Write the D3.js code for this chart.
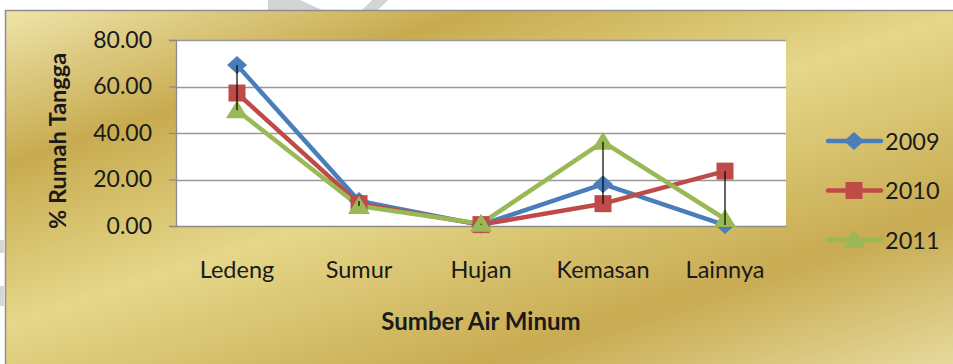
<!DOCTYPE html>
<html>
<head>
<meta charset="utf-8">
<script src="https://cdn.jsdelivr.net/npm/d3@7"></script>
<style>
  html, body { margin: 0; padding: 0; background: #ffffff; }
  svg { display: block; }
  text { font-family: Lato, "Open Sans", sans-serif; fill: #1a1a1a; }
</style>
</head>
<body>
<svg id="chart" width="953" height="364"></svg>
<script>
// Sumber air minum rumah tangga, 2009-2011 (%)
const categories = ["Ledeng", "Sumur", "Hujan", "Kemasan", "Lainnya"];
const years = ["2009", "2010", "2011"];
const values2009 = [69.2, 10.8, 0.5, 18.0, 0.4];
const values2010 = [57.2, 9.6, 0.6, 9.6, 23.6];
const values2011 = [49.8, 8.6, 1.0, 36.2, 3.0];
const yTicks = [0, 20, 40, 60, 80];
const seriesColors = ["#4a7ebb", "#be4b48", "#98b954"];

// marker outlines, drawn around (0,0)
const markerPaths = {
  diamond: () => { const p = d3.path(); p.moveTo(0, -9); p.lineTo(10, 0); p.lineTo(0, 9); p.lineTo(-10, 0); p.closePath(); return p.toString(); },
  square: () => { const p = d3.path(); p.rect(-8.5, -8.5, 17, 17); return p.toString(); },
  triangle: () => { const p = d3.path(); p.moveTo(0, -10); p.lineTo(11, 8); p.lineTo(-11, 8); p.closePath(); return p.toString(); }
};
const markerKinds = ["diamond", "square", "triangle"];

const series = years.map((y, i) => ({
  name: y,
  values: [values2009, values2010, values2011][i],
  color: seriesColors[i],
  marker: markerPaths[markerKinds[i]]()
}));

const svg = d3.select("#chart");
const W = 953, H = 364;
const FONT = "Lato, 'Open Sans', sans-serif";

// gold chart-area fill
const defs = svg.append("defs");
const grad = defs.append("linearGradient")
  .attr("id", "gold")
  .attr("gradientUnits", "userSpaceOnUse")
  .attr("x1", 5).attr("y1", 10)
  .attr("x2", 203).attr("y2", 618);
[
  [0.00, "#eee4aa"],
  [0.23, "#c8ab50"],
  [0.47, "#e5d789"],
  [0.76, "#c8ab52"],
  [1.00, "#e8dca0"]
].forEach(([o, c]) => grad.append("stop").attr("offset", o).attr("stop-color", c));

// faint marks outside the frame
svg.append("path")
  .attr("d", "M268,0 L300,0 L322,10 L362,10 L372,0 L388,0 L378,10 L268,10 Z")
  .attr("fill", "#d4d4d4");
svg.append("rect").attr("x", 0).attr("y", 240).attr("width", 4).attr("height", 13).attr("fill", "#d6d6d6");
svg.append("rect").attr("x", 0).attr("y", 286).attr("width", 4).attr("height", 20).attr("fill", "#d6d6d6");

svg.append("rect")
  .attr("x", 5.5).attr("y", 10.5)
  .attr("width", W + 10).attr("height", H + 10)
  .attr("fill", "url(#gold)")
  .attr("stroke", "#8e8e8e")
  .attr("stroke-width", 1.5);

// plot area
const plot = { left: 176, right: 786, top: 40, bottom: 226 };

const x = d3.scaleBand().domain(categories).range([plot.left, plot.right]);
const y = d3.scaleLinear().domain([0, 80]).range([plot.bottom, plot.top]);

svg.append("rect")
  .attr("x", plot.left).attr("y", plot.top)
  .attr("width", plot.right - plot.left).attr("height", plot.bottom - plot.top)
  .attr("fill", "#ffffff");

// horizontal gridlines
svg.append("g")
  .selectAll("line")
  .data(yTicks.filter(t => t > 0))
  .join("line")
  .attr("x1", plot.left).attr("x2", plot.right)
  .attr("y1", d => Math.round(y(d)) + 0.5).attr("y2", d => Math.round(y(d)) + 0.5)
  .attr("stroke", "#989898").attr("stroke-width", 1.3);

// y axis
const yAxis = svg.append("g")
  .attr("transform", `translate(${plot.left},0)`)
  .call(d3.axisLeft(y).tickValues(yTicks).tickFormat(d3.format(".2f")).tickSize(7).tickPadding(17));
yAxis.select(".domain").attr("stroke", "#8c8c8c").attr("stroke-width", 1.3);
yAxis.selectAll(".tick line").attr("stroke", "#8c8c8c").attr("stroke-width", 1.3);
yAxis.selectAll(".tick text")
  .style("font-family", FONT)
  .style("font-size", "23px")
  .attr("fill", "#1a1a1a");

// x axis
const xAxis = svg.append("g")
  .attr("transform", `translate(0,${plot.bottom})`)
  .call(d3.axisBottom(x).tickSize(0).tickPadding(35));
xAxis.select(".domain").attr("stroke", "#8c8c8c").attr("stroke-width", 1.5);
xAxis.selectAll(".tick text")
  .style("font-family", FONT)
  .style("font-size", "23.5px")
  .attr("fill", "#1a1a1a");

// axis titles
svg.append("text")
  .attr("transform", `translate(66,141) rotate(-90)`)
  .attr("text-anchor", "middle")
  .style("font-size", "23.5px").style("font-weight", "bold")
  .text("% Rumah Tangga");

svg.append("text")
  .attr("x", 481).attr("y", 330)
  .attr("text-anchor", "middle")
  .style("font-size", "24px").style("font-weight", "bold")
  .text("Sumber Air Minum");

const cx = c => x(c) + x.bandwidth() / 2;

// series lines
const line = d3.line().x((d, i) => cx(categories[i])).y(d => y(d));
svg.append("g")
  .selectAll("path")
  .data(series)
  .join("path")
  .attr("d", s => line(s.values))
  .attr("fill", "none")
  .attr("stroke", s => s.color)
  .attr("stroke-width", 4.5)
  .attr("stroke-linejoin", "round");

// markers
series.forEach(s => {
  svg.append("g")
    .selectAll("path")
    .data(s.values)
    .join("path")
    .attr("transform", (d, i) => `translate(${cx(categories[i])},${y(d)})`)
    .attr("d", s.marker)
    .attr("fill", s.color);
});

// high-low lines across the three years
svg.append("g")
  .selectAll("line")
  .data(categories)
  .join("line")
  .attr("x1", c => cx(c)).attr("x2", c => cx(c))
  .attr("y1", (c, i) => y(d3.max(series, s => s.values[i])))
  .attr("y2", (c, i) => y(d3.min(series, s => s.values[i])))
  .attr("stroke", "#000000").attr("stroke-width", 1.2);

// legend
const legend = svg.append("g");
series.forEach((s, i) => {
  const ly = 141 + i * 49.5;
  const g = legend.append("g").attr("transform", `translate(0,${ly})`);
  g.append("line").attr("x1", 828).attr("x2", 881).attr("y1", 0).attr("y2", 0)
    .attr("stroke", s.color).attr("stroke-width", 4.5).attr("stroke-linecap", "round");
  g.append("path").attr("transform", "translate(854,0)")
    .attr("d", s.marker).attr("fill", s.color);
  g.append("text").attr("x", 885).attr("y", 8.5)
    .style("font-size", "23.5px").text(s.name);
});
</script>
</body>
</html>
